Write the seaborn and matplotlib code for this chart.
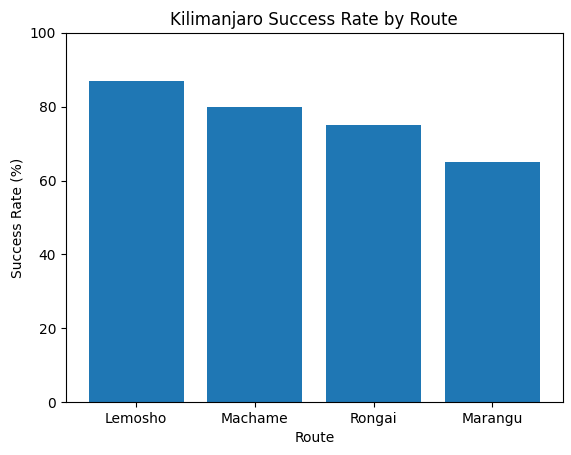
import matplotlib
matplotlib.use("Agg")
import matplotlib.pyplot as plt
import seaborn as sns
import pandas as pd

routes = ["Lemosho", "Machame", "Rongai", "Marangu"]
success_rates = [87, 80, 75, 65]

df = pd.DataFrame({"Route": routes, "Success Rate (%)": success_rates})

fig = plt.figure(figsize=(5.71, 4.55), dpi=100)
ax = fig.add_axes([66/571, 1-402/455, (562.5-66)/571, (402-33)/455])
sns.barplot(data=df, x="Route", y="Success Rate (%)", color="#1f77b4",
            saturation=1, width=0.8, ax=ax)
ax.set_xlim(-0.59, 3.59)
ax.set_ylim(0, 100)
ax.set_title("Kilimanjaro Success Rate by Route")
ax.set_xlabel("Route")
ax.set_ylabel("Success Rate (%)")
fig.savefig("out.png", dpi=100)
